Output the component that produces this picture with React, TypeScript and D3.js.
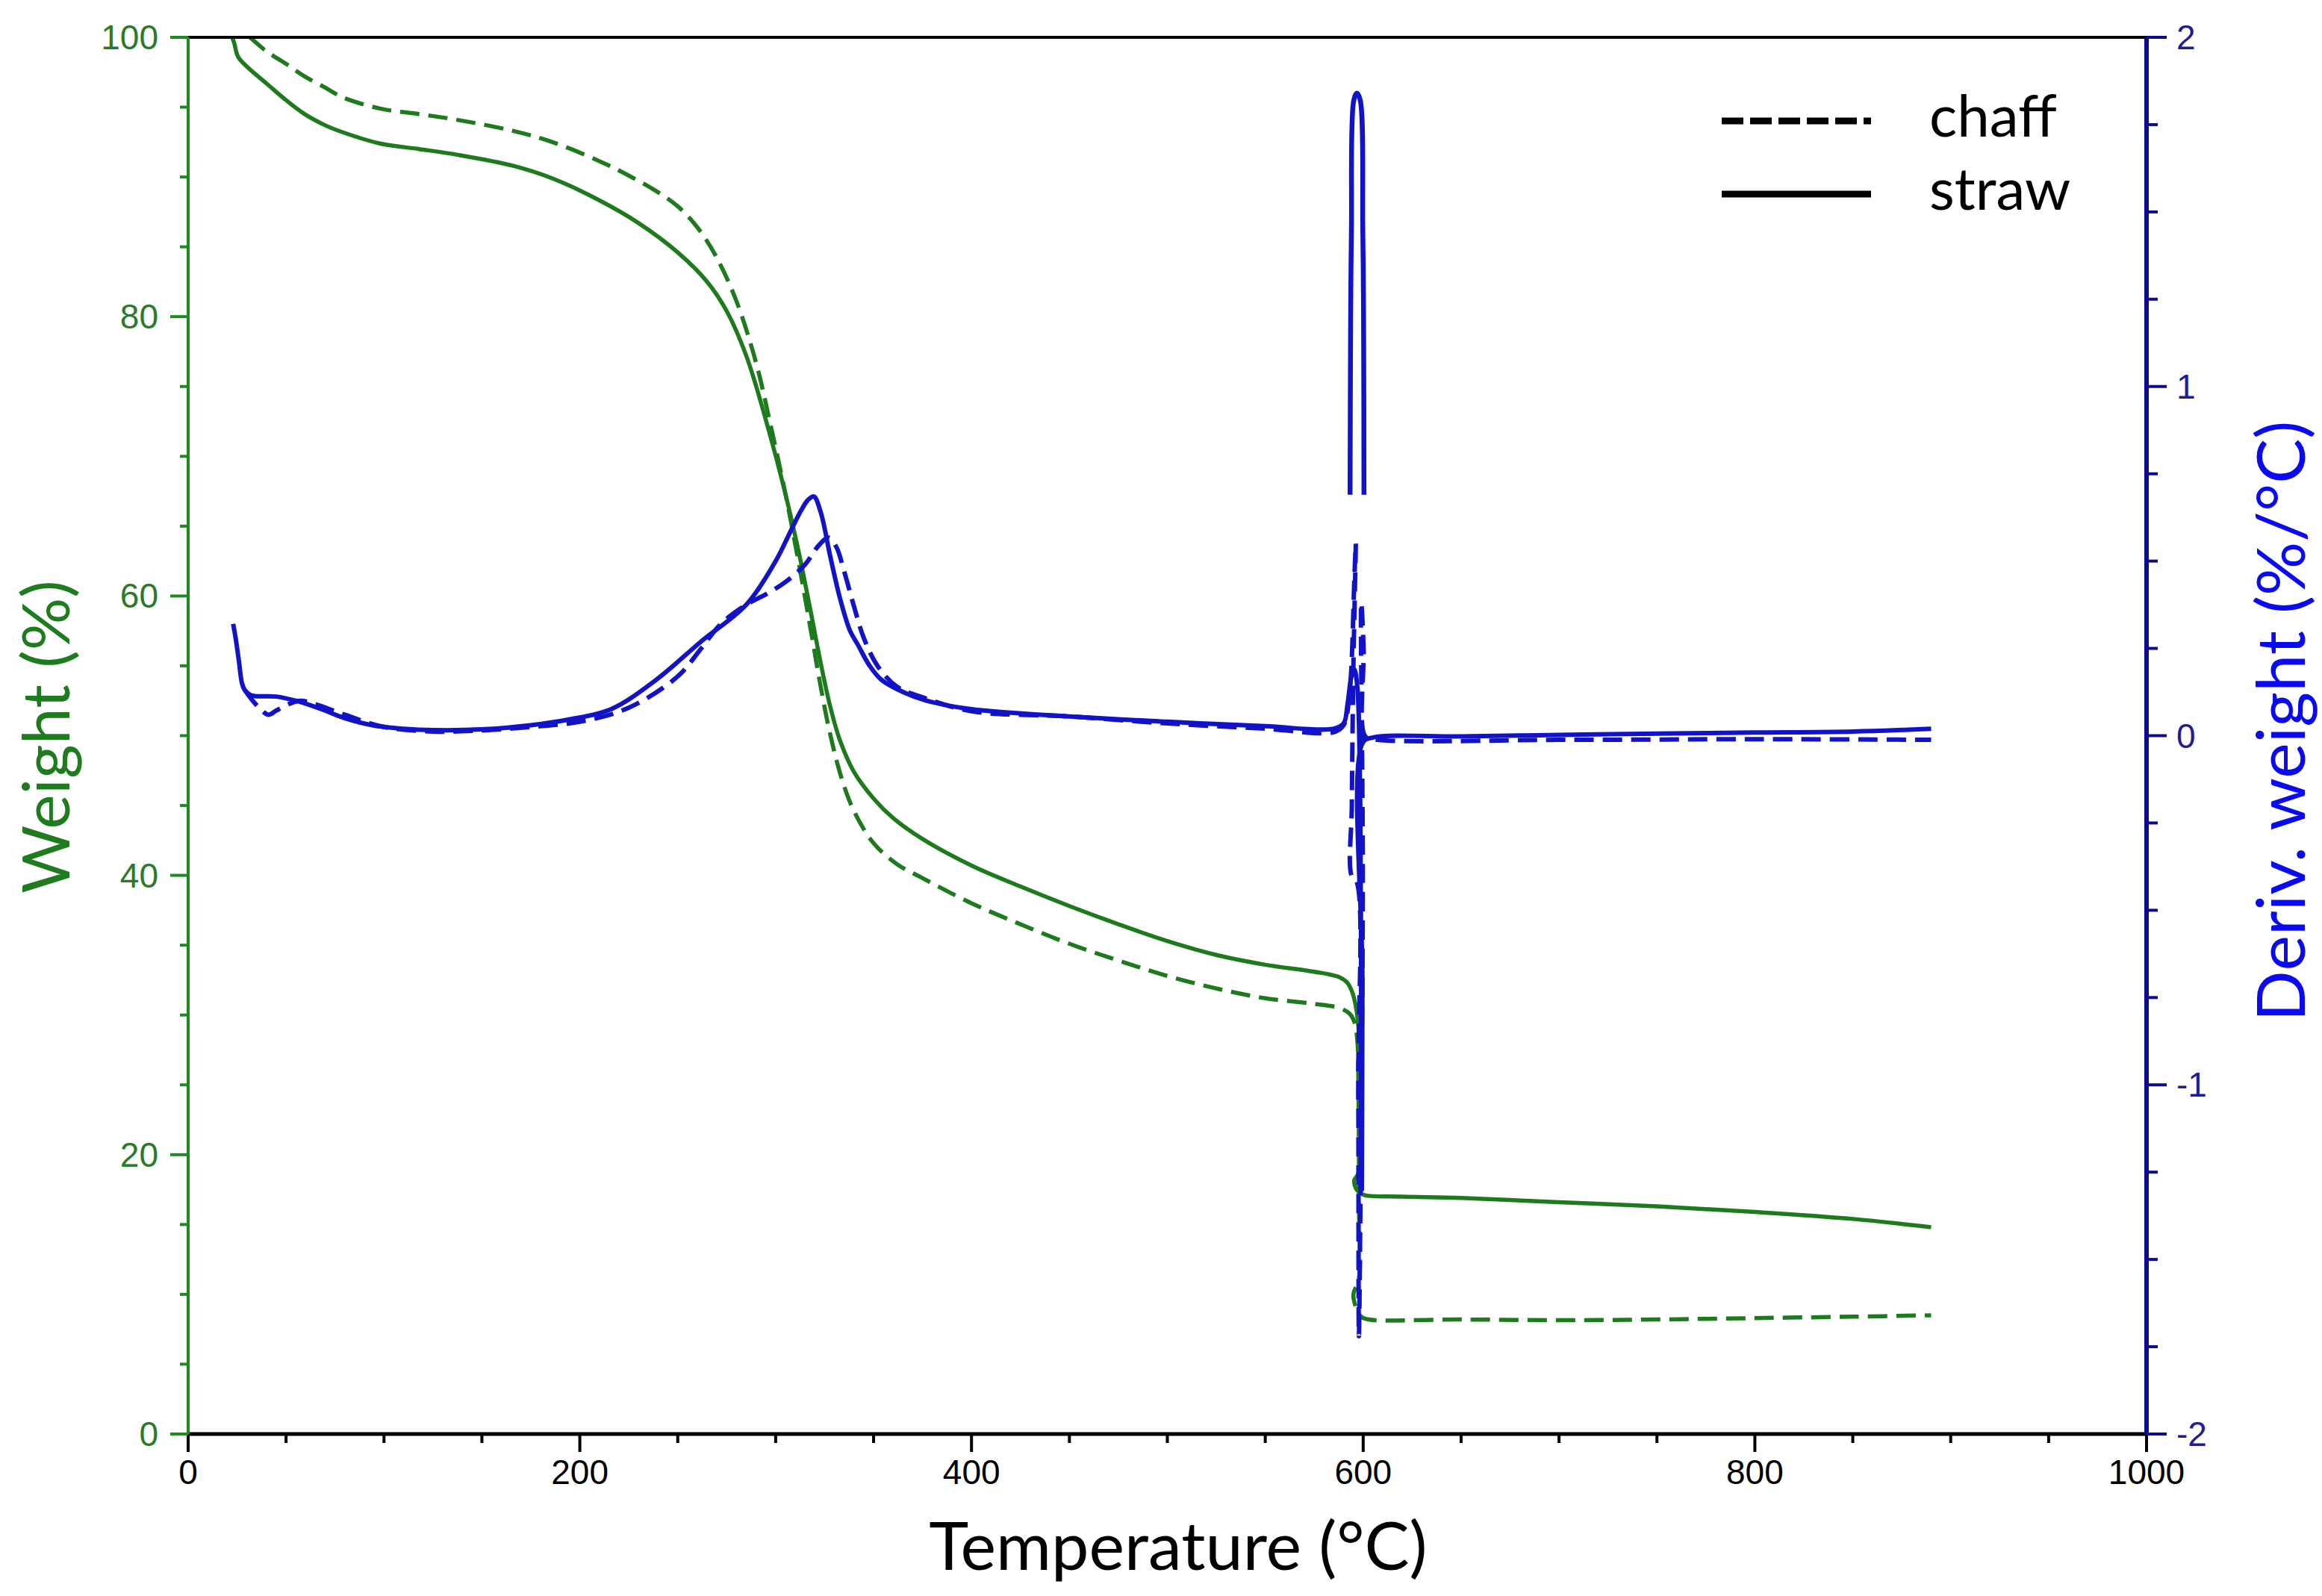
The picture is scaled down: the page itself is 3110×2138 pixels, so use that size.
import React from 'react';
import * as d3 from 'd3';

type Pt = [number, number];

// TG curves: [temperature °C, weight %]
const strawWeight: Pt[] = [
  [22.5, 100], [23.5, 99.6], [25.5, 98.6], [30, 97.9], [40, 96.7], [50, 95.5], [59.5, 94.5],
  [70, 93.7], [79, 93.2], [98, 92.4], [118, 92.0], [137, 91.6], [166, 90.8], [186, 89.9],
  [209, 88.4], [230, 86.7], [250, 84.6], [265, 82.5], [275, 80.4], [285, 77.2], [295, 72.6],
  [305, 67.3], [312, 63.0], [318, 58.8], [323, 55.2], [328, 52.0], [333, 49.6], [340, 47.4],
  [350, 45.5], [360, 44.1], [375, 42.6], [400, 40.7], [425, 39.2], [450, 37.8], [475, 36.5],
  [500, 35.3], [525, 34.3], [550, 33.6], [575, 33.1], [588, 32.7], [592, 32.3], [594.5, 31.6],
  [596, 30.8], [597.5, 29.3], [598.3, 25], [598.6, 21], [598.2, 19.0], [597, 18.5],
  [595.5, 18.2], [596.2, 17.6], [598, 17.3], [600.8, 17.1], [620, 17.0], [650, 16.9],
  [700, 16.6], [750, 16.3], [800, 15.9], [850, 15.4], [890, 14.8],
];

const chaffWeight: Pt[] = [
  [31.5, 100], [34, 99.7], [40, 99.0], [50, 98.1], [59.5, 97.2], [70, 96.4], [79, 95.7],
  [98, 94.9], [118, 94.5], [137, 94.1], [166, 93.3], [186, 92.5], [209, 91.2], [225, 90.1],
  [240, 88.9], [250, 87.9], [260, 86.4], [270, 84.2], [280, 81.1], [290, 76.7], [297, 72.5],
  [305, 67.3], [312, 62.2], [318, 57.5], [323, 53.5], [328, 50.0], [334, 46.8], [340, 44.6],
  [350, 42.3], [362, 40.8], [375, 39.8], [400, 38.0], [425, 36.5], [450, 35.1], [475, 33.9],
  [500, 32.8], [525, 31.9], [550, 31.2], [575, 30.8], [588, 30.5], [593, 30.1], [595.5, 29.5],
  [597, 28.2], [597.6, 24], [597.9, 16], [598, 11.3], [596.5, 10.6], [595, 10.0],
  [596.5, 9.0], [599, 8.4], [602.7, 8.2], [650, 8.2], [700, 8.15], [750, 8.2], [800, 8.3],
  [850, 8.4], [890, 8.5],
];

// DTG curves: [temperature °C, deriv. weight %/°C]
const strawDeriv: Pt[] = [
  [23, 0.32], [24.5, 0.27], [26, 0.21], [27.5, 0.15], [29, 0.13], [32, 0.116], [35, 0.113],
  [45, 0.112], [55, 0.1], [68, 0.076], [80, 0.05], [95, 0.029], [110, 0.02], [125, 0.016],
  [150, 0.018], [175, 0.03], [194, 0.046], [216, 0.076], [239, 0.16], [262, 0.27],
  [285, 0.375], [300, 0.5], [308, 0.59], [313, 0.645], [316.5, 0.675], [319.5, 0.685],
  [323, 0.64], [328, 0.51], [333, 0.39], [338, 0.3], [342, 0.26], [348, 0.2], [354, 0.16],
  [365, 0.125], [377, 0.1], [400, 0.076], [450, 0.055], [500, 0.04], [550, 0.027],
  [585, 0.02], [590, 0.035], [592, 0.09], [594, 0.17], [595.5, 0.19], [597, 0.14],
  [598.5, -0.2], [599, -0.9], [599.3, -1.3], [599.6, -0.7], [599.8, -0.02], [605, -0.005],
  [650, -0.002], [700, 0.002], [750, 0.006], [800, 0.009], [850, 0.012], [890, 0.02],
];

const strawSpike: Pt[] = [
  [593.3, 0.69], [593.6, 1.2], [594, 1.45], [595.2, 1.82], [596.8, 1.84], [598.5, 1.82],
  [599.8, 1.45], [600.2, 1.2], [600.4, 0.69],
];

const chaffDeriv: Pt[] = [
  [29, 0.13], [33, 0.1], [37, 0.076], [41, 0.06], [45, 0.072], [50, 0.087], [57, 0.1],
  [65, 0.09], [80, 0.06], [100, 0.025], [125, 0.012], [150, 0.015], [175, 0.025],
  [200, 0.04], [225, 0.08], [250, 0.17], [262, 0.25], [272, 0.32], [285, 0.375],
  [295, 0.405], [305, 0.44], [315, 0.49], [322, 0.545], [327, 0.567], [331, 0.54],
  [335, 0.47], [340, 0.37], [345, 0.28], [352, 0.2], [362, 0.14], [375, 0.11], [400, 0.07],
  [450, 0.055], [500, 0.035], [550, 0.02], [585, 0.01], [590, 0.03], [593, 0.12],
  [595.5, 0.45], [596.2, 0.55], [595, 0.2], [594.2, -0.2], [594, -0.4], [596.8, -0.42],
  [597.5, -1.0], [597.8, -1.72], [598.8, -1.2], [599.8, -0.4], [599, 0.38], [600.2, 0.25],
  [600.8, 0.0], [605, -0.01], [700, -0.012], [800, -0.01], [890, -0.012],
];

const xTicks = [0, 200, 400, 600, 800, 1000];
const leftTicks = [0, 20, 40, 60, 80, 100];
const rightTicks = [-2, -1, 0, 1, 2];
const legendItems = ['chaff', 'straw'];

const W = 3110;
const H = 2138;
const left = 252;
const right = 2875;
const top = 50;
const bottom = 1921;

const GREEN = '#1d7a1d';
const GREEN_AXIS = '#1f8a1f';
const GREEN_TEXT = '#2a7a2a';
const BLUE = '#1212c6';
const BLUE_AXIS = '#0b0b90';
const BLUE_TEXT = '#1c1c9c';
const DASH = '26 12';
const TICK_FONT = '"Liberation Sans", Arial, sans-serif';
const TITLE_FONT = 'Lato, "Open Sans", sans-serif';

export default function App() {
  const x = d3.scaleLinear().domain([0, 1000]).range([left, right]);
  const yL = d3.scaleLinear().domain([0, 100]).range([bottom, top]);
  const yR = d3.scaleLinear().domain([-2, 2]).range([bottom, top]);

  const lineL = d3.line<Pt>().x((d) => x(d[0])).y((d) => yL(d[1])).curve(d3.curveCatmullRom.alpha(0.5));
  const lineR = d3.line<Pt>().x((d) => x(d[0])).y((d) => yR(d[1])).curve(d3.curveCatmullRom.alpha(0.5));

  const xMinor = d3.range(0, 1001, 50).filter((v) => v % 200 !== 0);
  const lMinor = d3.range(0, 101, 5).filter((v) => v % 20 !== 0);
  const rMinor = d3.range(-2, 2.001, 0.25).filter((v) => Math.abs(v - Math.round(v)) > 1e-6);

  return (
    <svg width={W} height={H} viewBox={`0 0 ${W} ${H}`}
      style={{ position: 'absolute', left: 0, top: 0, background: '#fff' }}>
      <rect width={W} height={H} fill="#fff" />

      {/* weight curves */}
      <path d={lineL(strawWeight) ?? ''} fill="none" stroke={GREEN} strokeWidth={5.5} strokeLinejoin="round" />
      <path d={lineL(chaffWeight) ?? ''} fill="none" stroke={GREEN} strokeWidth={5.5} strokeDasharray={DASH} />

      {/* derivative curves */}
      <path d={lineR(strawDeriv) ?? ''} fill="none" stroke={BLUE} strokeWidth={6} strokeLinejoin="round" />
      <path d={lineR(strawSpike) ?? ''} fill="none" stroke={BLUE} strokeWidth={6.5} strokeLinejoin="round" />
      <path d={lineR(chaffDeriv) ?? ''} fill="none" stroke={BLUE} strokeWidth={6} strokeDasharray={DASH} />

      {/* frame */}
      <line x1={left} x2={right} y1={top} y2={top} stroke="#000" strokeWidth={4} />
      <line x1={left} x2={right} y1={bottom} y2={bottom} stroke="#000" strokeWidth={5} />

      {/* x axis ticks */}
      {xTicks.map((t) => (
        <g key={`x${t}`}>
          <line x1={x(t)} x2={x(t)} y1={bottom} y2={bottom + 24} stroke="#000" strokeWidth={4} />
          <text x={x(t)} y={1988} textAnchor="middle" fontFamily={TICK_FONT} fontSize={46} fill="#000">{t}</text>
        </g>
      ))}
      {xMinor.map((t) => (
        <line key={`xm${t}`} x1={x(t)} x2={x(t)} y1={bottom} y2={bottom + 12} stroke="#000" strokeWidth={4} />
      ))}

      {/* left axis */}
      <line x1={left} x2={left} y1={top} y2={bottom} stroke={GREEN_AXIS} strokeWidth={4} />
      {leftTicks.map((t) => (
        <g key={`l${t}`}>
          <line x1={left - 24} x2={left} y1={yL(t)} y2={yL(t)} stroke={GREEN_AXIS} strokeWidth={4} />
          <text x={212} y={yL(t) + 16} textAnchor="end" fontFamily={TICK_FONT} fontSize={46} fill={GREEN_TEXT}>{t}</text>
        </g>
      ))}
      {lMinor.map((t) => (
        <line key={`lm${t}`} x1={left - 11} x2={left} y1={yL(t)} y2={yL(t)} stroke={GREEN_AXIS} strokeWidth={4} />
      ))}

      {/* right axis */}
      <line x1={right} x2={right} y1={top} y2={bottom} stroke={BLUE_AXIS} strokeWidth={6} />
      {rightTicks.map((t) => (
        <g key={`r${t}`}>
          <line x1={right} x2={right + 27} y1={yR(t)} y2={yR(t)} stroke={BLUE_AXIS} strokeWidth={4} />
          <text x={2915} y={yR(t) + 16} textAnchor="start" fontFamily={TICK_FONT} fontSize={46} fill={BLUE_TEXT}>{t < 0 ? `-${-t}` : t}</text>
        </g>
      ))}
      {rMinor.map((t) => (
        <line key={`rm${t}`} x1={right} x2={right + 15} y1={yR(t)} y2={yR(t)} stroke={BLUE_AXIS} strokeWidth={4} />
      ))}

      {/* axis titles */}
      <text x={1578} y={2103} textAnchor="middle" fontFamily={TITLE_FONT} fontSize={90} fill="#000">Temperature (°C)</text>
      <text transform="translate(93,987) rotate(-90)" textAnchor="middle" fontFamily={TITLE_FONT} fontSize={88} fill="#1e7b1e">Weight (%)</text>
      <text transform="translate(3087,966) rotate(-90)" textAnchor="middle" fontFamily={TITLE_FONT} fontSize={90} fill="#0a0af0">Deriv. weight (%/°C)</text>

      {/* legend */}
      {legendItems.map((name, i) => {
        const ly = 162 + i * 98;
        return (
          <g key={name}>
            <line x1={2306} x2={2506} y1={ly} y2={ly} stroke="#000" strokeWidth={9}
              strokeDasharray={name === 'chaff' ? '29 9' : undefined} />
            <text x={2584} y={ly + 21} fontFamily={TITLE_FONT} fontSize={78} fill="#000">{name}</text>
          </g>
        );
      })}
    </svg>
  );
}
